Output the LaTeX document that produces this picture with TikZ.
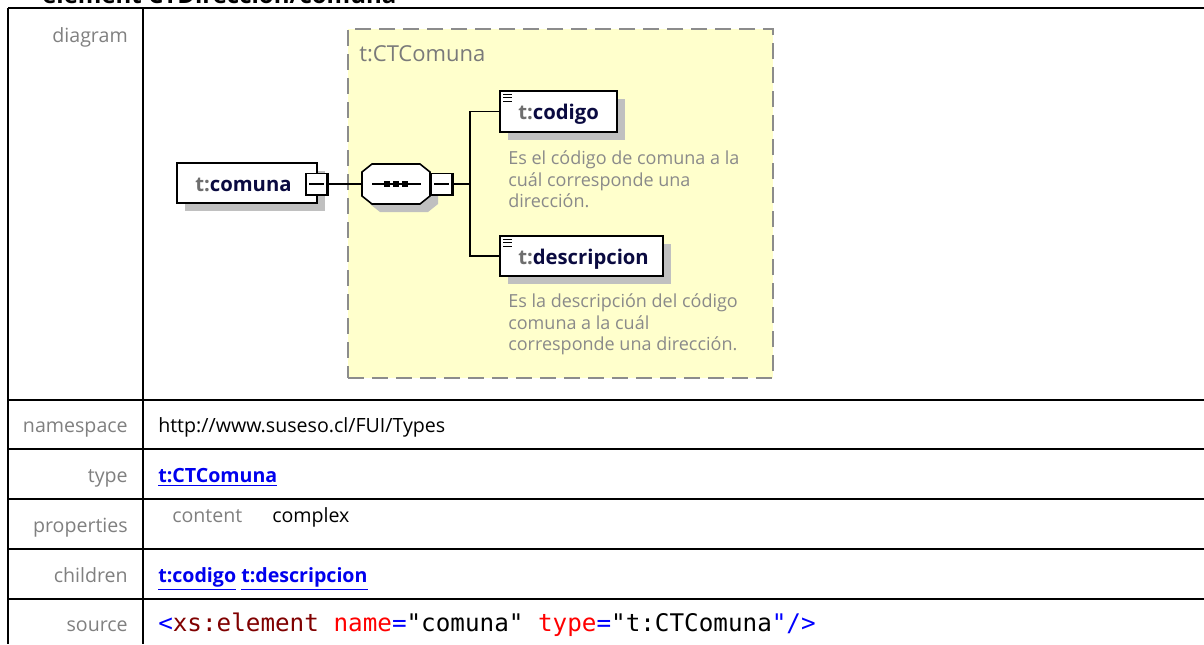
\documentclass[tikz,border=0pt]{standalone}
\usepackage{fontspec}
\setmainfont{Open Sans}
\newfontfamily\codefont{DejaVu Sans Mono}
\definecolor{labgray}{HTML}{808080}
\definecolor{linkblue}{HTML}{0000EE}
\definecolor{yellowbg}{HTML}{FFFFCC}
\definecolor{dashgray}{HTML}{8C8C8C}
\definecolor{shadowgray}{HTML}{C0C0C0}
\definecolor{descgray}{HTML}{8A8A8A}
\definecolor{hdrgray}{HTML}{7A7A7A}
\definecolor{prefgray}{HTML}{6E6E6E}
\definecolor{navy}{HTML}{0A0A40}
\definecolor{xmlblue}{HTML}{0000FF}
\definecolor{xmldark}{HTML}{800000}
\definecolor{xmlred}{HTML}{FF0000}
\begin{document}
\begin{tikzpicture}[x=0.75pt,y=-0.75pt,
  tline/.style={line width=1.5pt,black},
  txt/.style={inner sep=0pt,yshift=-2.4pt},
  lab/.style={txt,anchor=mid east,text=labgray,font=\fontsize{14.7}{17}\selectfont},
  val/.style={txt,anchor=mid west,font=\fontsize{14.7}{17}\selectfont},
  link/.style={txt,anchor=mid west,text=linkblue,font=\fontsize{14.7}{17}\selectfont\bfseries},
  elbox/.style={draw=black,line width=1.2pt,fill=white,inner sep=0pt},
  minusbox/.style={draw=black,line width=0.8pt,fill=white,minimum width=15.75pt,minimum height=15.75pt,inner sep=0pt},
  conn/.style={line width=0.9pt,black},
  desc/.style={txt,anchor=mid west,text=descgray,font=\fontsize{13.5}{16}\selectfont},
  elname/.style={txt,anchor=mid west,font=\fontsize{15.2}{18}\selectfont\bfseries}
]
\useasboundingbox (0,0) rectangle (1204,644);
\fill[white] (0,0) rectangle (1204,644);

% partially visible heading
\node[anchor=base west,inner sep=0pt,font=\fontsize{18}{21}\selectfont\bfseries] (title) at (42,3) {element CTDireccion/comuna};

% table
\draw[tline] (8,8) -- (1204,8);
\foreach \yy in {400,449,499,549,599} \draw[tline] (8,\yy) -- (1204,\yy);
\draw[tline] (8,8) -- (8,644);
\draw[tline] (143,8) -- (143,644);

% labels
\node[lab] (ldiag) at (128,36) {diagram};
\node[lab] (lns) at (128,426) {namespace};
\node[lab] (ltype) at (128,476) {type};
\node[lab] (lprop) at (128,526) {properties};
\node[lab] (lchild) at (128,576) {children};
\node[lab] (lsrc) at (128,625) {source};

% values
\node[val] (vns) at (158,426) {http://www.suseso.cl/FUI/Types};
\node[link] (vtype) at (158,476) {\underline{t:CTComuna}};
\node[val,text=labgray] (vcontent) at (172,516) {content};
\node[val] (vcomplex) at (272,516) {complex};
\node[link] (vchild) at (158,576) {\underline{t:codigo} \underline{t:descripcion}};
\node[txt,anchor=mid west,font=\codefont\fontsize{18.2}{22}\selectfont] (vsrc) at (158,625)
 {\textcolor{xmlblue}{<}\textcolor{xmldark}{xs:element} \textcolor{xmlred}{name}\textcolor{xmlblue}{=}"comuna" \textcolor{xmlred}{type}\textcolor{xmlblue}{=}"t:CTComuna\textcolor{xmlblue}{"/>}};

% complex type box
\node[draw=dashgray,fill=yellowbg,line width=1.5pt,dash pattern=on 12pt off 6pt,minimum width=318.75pt,minimum height=261.75pt,inner sep=0pt] (ctbox) at (560.5,203.5) {};
\node[txt,anchor=mid west,text=hdrgray,font=\fontsize{16.5}{19}\selectfont] (cthdr) at (359,55) {t:CTComuna};

% element comuna
\fill[shadowgray] (185,171) rectangle (325,211);
\node[elbox,minimum width=105pt,minimum height=30pt] (comuna) at (247,183) {};
\node[elname] (comunatxt) at (195,185) {\textcolor{prefgray}{t:}\textcolor{navy}{comuna}};
\node[minusbox] (cminus) at (316.5,184) {};
\draw[line width=1.5pt] (cminus.north east) -- (cminus.south east) -- (cminus.south west);
\draw[line width=0.8pt] ([xshift=3pt]cminus.west) -- ([xshift=-3pt]cminus.east);

% sequence compositor (octagon)
\fill[shadowgray] (380,172) -- (428,172) -- (438,180) -- (438,204) -- (428,212) -- (380,212) -- (370,204) -- (370,180) -- cycle;
\draw[line width=1.2pt,fill=white] (372,164) -- (420,164) -- (430,172) -- (430,196) -- (420,204) -- (372,204) -- (362,196) -- (362,172) -- cycle;
\coordinate (seqW) at (362,184);
\draw[conn] (372,184) -- (421,184);
\foreach \xx in {387,396,405} \fill (\xx,184) +(-2.6,-2.6) rectangle +(2.6,2.6);
\node[minusbox] (sminus) at (441.5,184) {};
\draw[line width=1.5pt] (sminus.north east) -- (sminus.south east) -- (sminus.south west);
\draw[line width=0.8pt] ([xshift=3pt]sminus.west) -- ([xshift=-3pt]sminus.east);

% child codigo
\fill[shadowgray] (508,99) rectangle (625,140);
\node[elbox,minimum width=87.75pt,minimum height=30.75pt] (codigo) at (558.5,111.5) {};
\node[elname] (codigotxt) at (518,113) {\textcolor{prefgray}{t:}\textcolor{navy}{codigo}};
\foreach \yy in {94,97.5,101} \draw[line width=0.75pt] (503,\yy) -- (512,\yy);
\node[desc] (cd1) at (508,158) {Es el código de comuna a la};
\node[desc] (cd2) at (508,179.5) {cuál corresponde una};
\node[desc] (cd3) at (508,201) {dirección.};

% child descripcion
\fill[shadowgray] (508,244) rectangle (671,284);
\node[elbox,minimum width=122.25pt,minimum height=30pt] (descr) at (581.5,256) {};
\node[elname] (descrtxt) at (518,258) {\textcolor{prefgray}{t:}\textcolor{navy}{descripcion}};
\foreach \yy in {239,242.5,246} \draw[line width=0.75pt] (503,\yy) -- (512,\yy);
\node[desc] (dd1) at (508,301) {Es la descripción del código};
\node[desc] (dd2) at (508,322.5) {comuna a la cuál};
\node[desc] (dd3) at (508,344) {corresponde una dirección.};

% connectors
\coordinate (j) at (470,184);
\draw[conn] (cminus.east) -- (seqW);
\draw[conn] (sminus.east) -- (j);
\draw[conn] (j) |- (codigo.west);
\draw[conn] (j) |- (descr.west);
\end{tikzpicture}
\end{document}
